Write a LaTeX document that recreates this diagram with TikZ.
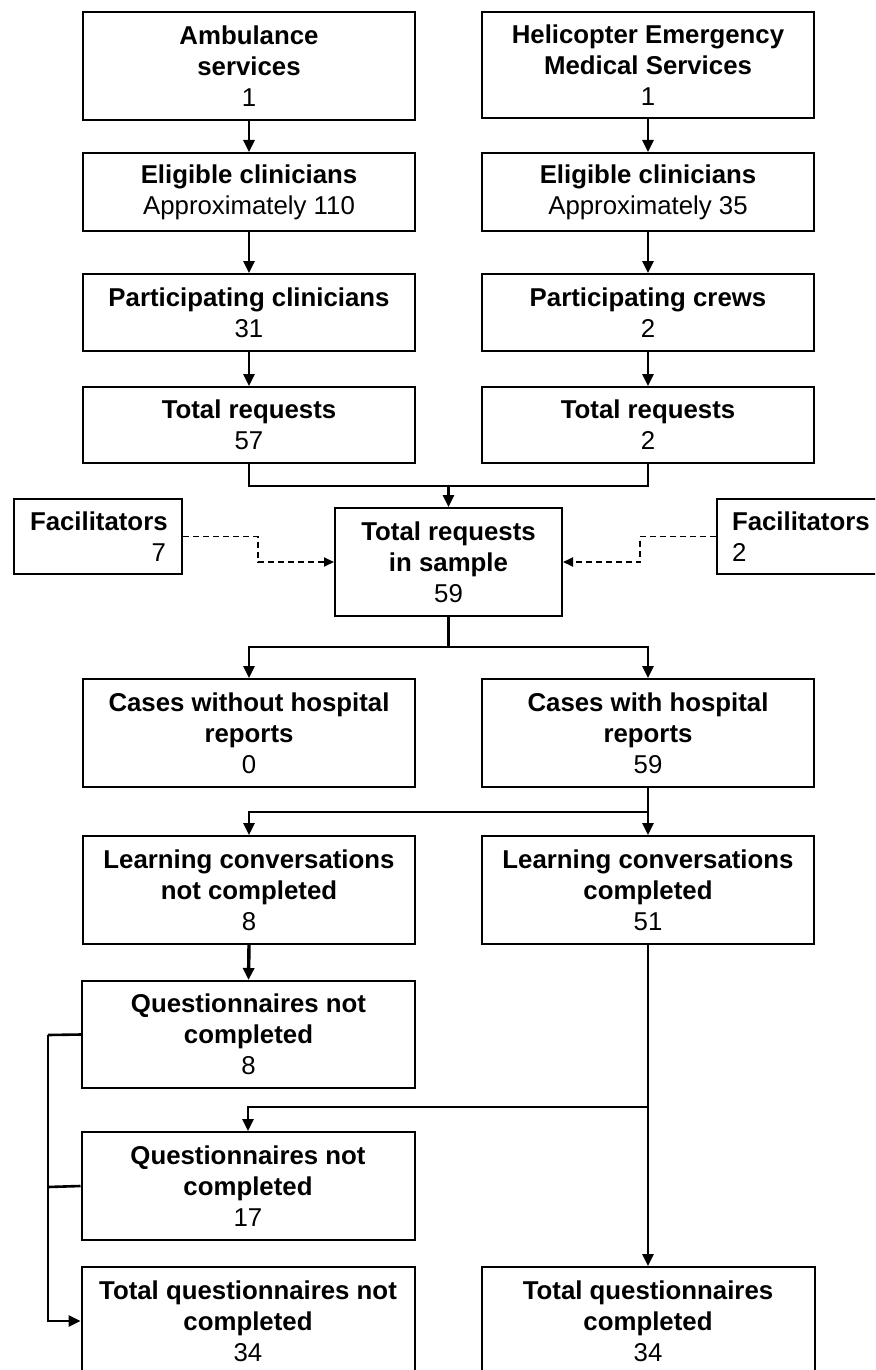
\documentclass[tikz,border=0pt]{standalone}
\usepackage{fontspec}
\setmainfont{Liberation Sans}
\usetikzlibrary{arrows.meta}
\tikzset{
  box/.style={draw=black, line width=2pt, rectangle, inner sep=0pt, align=center,
    font=\fontsize{25.8}{31}\selectfont, text=black},
  conn/.style={line width=2.6pt, draw=black},
  arr/.style={conn, -{Triangle[length=12pt,width=11pt]}},
  darr/.style={line width=1.8pt, dash pattern=on 6pt off 4pt, -{Triangle[length=10pt,width=9pt]}},
}
\begin{document}
\begin{tikzpicture}[x=1pt,y=-1pt]
\useasboundingbox (0,0) rectangle (875,1370);
\clip (0,0) rectangle (875,1370);
% top row
\node[box, minimum width=332pt, minimum height=108pt] (amb) at (249,66) {\textbf{Ambulance}\\\textbf{services}\\1};
\node[box, minimum width=332pt, minimum height=106pt] (hems) at (648,65) {\textbf{Helicopter Emergency}\\\textbf{Medical Services}\\1};
\node[box, minimum width=332pt, minimum height=78pt] (elig1) at (249,192) {\textbf{Eligible clinicians}\\Approximately 110};
\node[box, minimum width=332pt, minimum height=78pt] (elig2) at (648,192) {\textbf{Eligible clinicians}\\Approximately 35};
\node[box, minimum width=332pt, minimum height=77pt] (part1) at (249,312.5) {\textbf{Participating clinicians}\\31};
\node[box, minimum width=332pt, minimum height=77pt] (part2) at (648,312.5) {\textbf{Participating crews}\\2};
\node[box, minimum width=332pt, minimum height=76pt] (tot1) at (249,425) {\textbf{Total requests}\\57};
\node[box, minimum width=332pt, minimum height=76pt] (tot2) at (648,425) {\textbf{Total requests}\\2};
% sample and facilitators
\node[box, minimum width=227pt, minimum height=108pt] (sample) at (448.5,562) {\textbf{Total requests}\\\textbf{in sample}\\59};
\node[box, minimum width=168pt, minimum height=75pt, text width=136pt, align=right] (fac1) at (98,536.5) {\textbf{Facilitators}\\7};
\node[box, minimum width=170pt, minimum height=75pt, text width=140pt, align=left] (fac2) at (802,536.5) {\textbf{Facilitators}\\2};
% cases
\node[box, minimum width=332pt, minimum height=108pt] (cases1) at (249,733) {\textbf{Cases without hospital}\\\textbf{reports}\\0};
\node[box, minimum width=332pt, minimum height=108pt] (cases2) at (648,733) {\textbf{Cases with hospital}\\\textbf{reports}\\59};
\node[box, minimum width=332pt, minimum height=108pt] (learn1) at (249,890) {\textbf{Learning conversations}\\\textbf{not completed}\\8};
\node[box, minimum width=332pt, minimum height=108pt] (learn2) at (648,890) {\textbf{Learning conversations}\\\textbf{completed}\\51};
\node[box, minimum width=333pt, minimum height=107pt] (q8) at (248.5,1034.5) {\textbf{Questionnaires not}\\\textbf{completed}\\8};
\node[box, minimum width=333pt, minimum height=108pt] (q17) at (248,1186) {\textbf{Questionnaires not}\\\textbf{completed}\\17};
\node[box, minimum width=333pt, minimum height=108pt] (totnot) at (248,1321) {\textbf{Total questionnaires not}\\\textbf{completed}\\34};
\node[box, minimum width=333pt, minimum height=108pt] (totcomp) at (648,1321) {\textbf{Total questionnaires}\\\textbf{completed}\\34};
% junction coordinates
\coordinate (j1) at (448.5,486);
\coordinate (d1) at (258,536.5);
\coordinate (d2) at (640,536.5);
\coordinate (j2) at (448.5,647);
\coordinate (j3) at (648,812);
\coordinate (j4) at (648,1107);
\coordinate (b1) at (48,1035);
\coordinate (b2) at (48,1187);
% connectors
\draw[arr] (amb) -- (elig1);
\draw[arr] (hems) -- (elig2);
\draw[arr] (elig1) -- (part1);
\draw[arr] (elig2) -- (part2);
\draw[arr] (part1) -- (tot1);
\draw[arr] (part2) -- (tot2);
\draw[conn] (tot1.south) |- (j1) -| (tot2.south);
\draw[arr] (j1) -- (sample.north);
\draw[darr] (fac1.east) -- (d1) |- (sample.west);
\draw[darr] (fac2.west) -- (d2) |- (sample.east);
\draw[conn] (sample.south) -- (j2);
\draw[arr] (j2) -| (cases1.north);
\draw[arr] (j2) -| (cases2.north);
\draw[arr] (cases2.south) -- (learn2.north);
\draw[arr] (j3) -| (learn1.north);
\draw[arr, line width=3.4pt] (learn1.south) -- (q8.north);
\draw[arr] (learn2.south) -- (totcomp.north);
\draw[arr] (j4) -| (q17.north);
\draw[conn] (q8.west) -- (b1);
\draw[conn] (q17.west) -- (b2);
\draw[arr] (b1) |- (totnot.west);
\end{tikzpicture}
\end{document}
